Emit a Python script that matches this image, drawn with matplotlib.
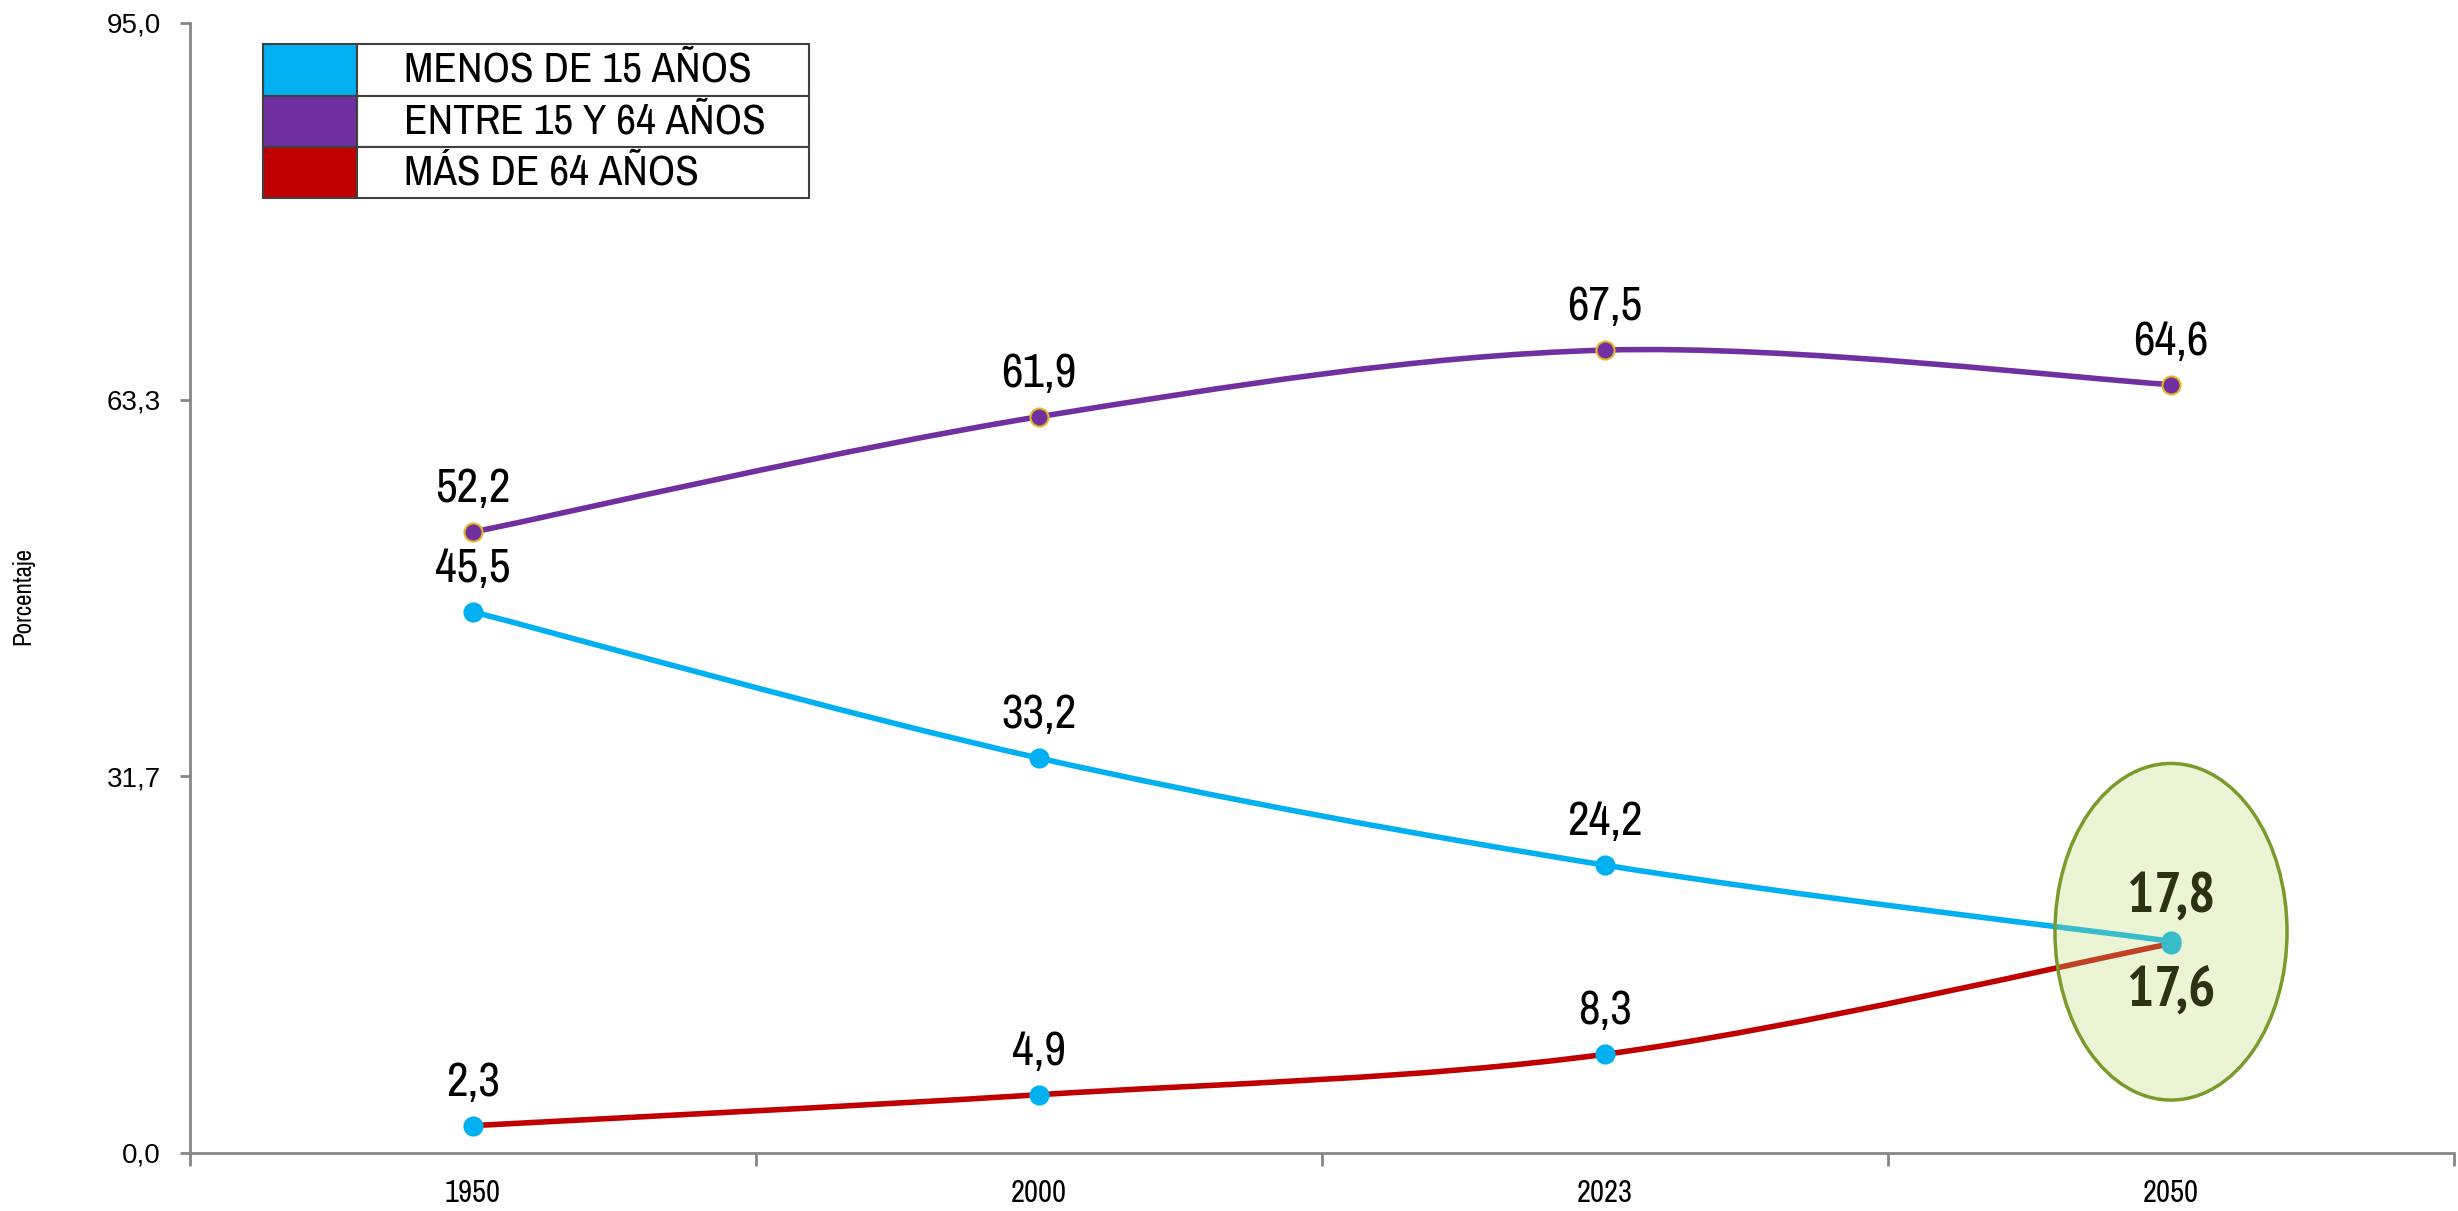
import matplotlib
matplotlib.use("Agg")
import matplotlib.pyplot as plt
from matplotlib import font_manager as fm
from matplotlib.path import Path
from matplotlib.patches import PathPatch, Ellipse, Rectangle
import numpy as np

# Datos
years = ["1950", "2000", "2023", "2050"]
menos_15 = [45.5, 33.2, 24.2, 17.8]
entre_15_64 = [52.2, 61.9, 67.5, 64.6]
mas_64 = [2.3, 4.9, 8.3, 17.6]
legend_labels = ["MENOS DE 15 AÑOS", "ENTRE 15 Y 64 AÑOS", "MÁS DE 64 AÑOS"]
y_ticks = [0.0, 95.0 / 3, 190.0 / 3, 95.0]

c_menos = "#00B0F0"
c_entre = "#7030A0"
c_mas = "#C00000"


# police étroite (type Arial Narrow) si disponible
def pick_font(bold=False):
    target = 700 if bold else 400
    best, best_score = None, 1e9
    for f in fm.fontManager.ttflist:
        nm = f.name.lower()
        fn = f.fname.lower()
        st = str(f.stretch).lower()
        if f.style != "normal":
            continue
        narrow = "narrow" in nm or "narrow" in fn
        cond = "condensed" in nm or "condensed" in fn or "condensed" in st
        if not (narrow or cond):
            continue
        if "extra" in fn or "ultra" in fn or "extra" in st or "ultra" in st:
            continue
        w = f.weight if isinstance(f.weight, int) else fm.weight_dict.get(f.weight, 400)
        score = abs(w - target)
        if not narrow:
            score += 50
        if "semi" in fn or "semi" in st:
            score += 30
        if score < best_score:
            best, best_score = f.fname, score
    if best is None:
        return fm.FontProperties(family="Liberation Sans",
                                 weight="bold" if bold else "normal")
    return fm.FontProperties(fname=best)


fp = pick_font(False)
fpb = pick_font(True)


def fprop(size, bold=False):
    p = (fpb if bold else fp).copy()
    p.set_size(size)
    return p


W, H = 2458, 1211
fig = plt.figure(figsize=(W / 100, H / 100), dpi=100)
ax = fig.add_axes([190 / W, 58 / H, (2454 - 190) / W, (1153 - 23) / H])

x = np.arange(len(years)) + 0.5


def smooth_path(xs, ys):
    # courbe lissée façon Excel (Catmull-Rom -> Bézier)
    pts = np.column_stack([xs, ys])
    n = len(pts)
    verts = [pts[0]]
    codes = [Path.MOVETO]
    for i in range(n - 1):
        p0 = pts[i - 1] if i > 0 else pts[i]
        p1 = pts[i]
        p2 = pts[i + 1]
        p3 = pts[i + 2] if i + 2 < n else pts[i + 1]
        verts += [p1 + (p2 - p0) / 6, p2 - (p3 - p1) / 6, p2]
        codes += [Path.CURVE4] * 3
    return Path(verts, codes)


series = [
    (menos_15, c_menos, c_menos, c_menos),
    (entre_15_64, c_entre, c_entre, "#E2B72A"),
    (mas_64, c_mas, c_menos, c_menos),
]
for vals, lc, mc, mec in series:
    ax.add_patch(PathPatch(smooth_path(x, vals), facecolor="none",
                           edgecolor=lc, lw=4, zorder=2))
for vals, lc, mc, mec in series:
    ax.plot(x, vals, ls="none", marker="o", ms=13, mfc=mc, mec=mec,
            mew=1.5, zorder=3)


def fmt(v):
    return f"{v:.1f}".replace(".", ",")


for vals in (menos_15, entre_15_64, mas_64):
    for xi, v in zip(x[:-1], vals[:-1]):
        ax.annotate(fmt(v), (xi, v), xytext=(0, 30), textcoords="offset pixels",
                    ha="center", va="baseline", fontproperties=fprop(34), zorder=6)
ax.annotate(fmt(entre_15_64[-1]), (x[-1], entre_15_64[-1]), xytext=(0, 30),
            textcoords="offset pixels", ha="center", va="baseline",
            fontproperties=fprop(34), zorder=6)

# ellipse 2050
ax.add_patch(Ellipse((x[-1], 18.6), 0.41, 28.3,
                     facecolor=(195 / 255, 220 / 255, 120 / 255, 0.3),
                     edgecolor="#789B2A", lw=2.5, zorder=4))
ax.annotate(fmt(menos_15[-1]), (x[-1], menos_15[-1]), xytext=(0, 30),
            textcoords="offset pixels", ha="center", va="baseline",
            fontproperties=fprop(41, True), color="#2D3210", zorder=6)
ax.annotate(fmt(mas_64[-1]), (x[-1], mas_64[-1]), xytext=(0, -63),
            textcoords="offset pixels", ha="center", va="baseline",
            fontproperties=fprop(41, True), color="#2D3210", zorder=6)

# axes
ax.set_xlim(0, len(years))
ax.set_ylim(0, 95)
ax.set_xticks(np.arange(len(years) + 1))
ax.set_xticklabels([])
ax.set_xticks(x, minor=True)
ax.set_xticklabels(years, minor=True, fontproperties=fprop(22))
ax.tick_params(axis="x", which="major", length=9, width=2, color="#868686", direction="out")
ax.tick_params(axis="x", which="minor", length=0, pad=19)
ax.set_yticks(y_ticks)
ax.set_yticklabels([fmt(v) for v in y_ticks], family="Liberation Sans", fontsize=20)
ax.tick_params(axis="y", length=7, width=2, color="#868686", pad=14)
for s in ("top", "right"):
    ax.spines[s].set_visible(False)
for s in ("left", "bottom"):
    ax.spines[s].set_color("#868686")
    ax.spines[s].set_linewidth(2)

fig.text(23 / W, 1 - 596 / H, "Porcentaje", rotation=90, ha="center", va="center",
         fontproperties=fprop(18))

# légende en tableau
rows = [44, 96, 147, 198]
for i, (lab, col) in enumerate(zip(legend_labels, [c_menos, c_entre, c_mas])):
    y0 = 1 - rows[i + 1] / H
    h = (rows[i + 1] - rows[i]) / H
    fig.add_artist(Rectangle((263 / W, y0), (357 - 263) / W, h, transform=fig.transFigure,
                             facecolor=col, edgecolor="#404040", lw=1.5))
    fig.add_artist(Rectangle((357 / W, y0), (809 - 357) / W, h, transform=fig.transFigure,
                             facecolor="white", edgecolor="#404040", lw=1.5))
    fig.text(404 / W, y0 + h / 2, lab, ha="left", va="center", fontproperties=fprop(31))

fig.savefig("out.png", dpi=100)
